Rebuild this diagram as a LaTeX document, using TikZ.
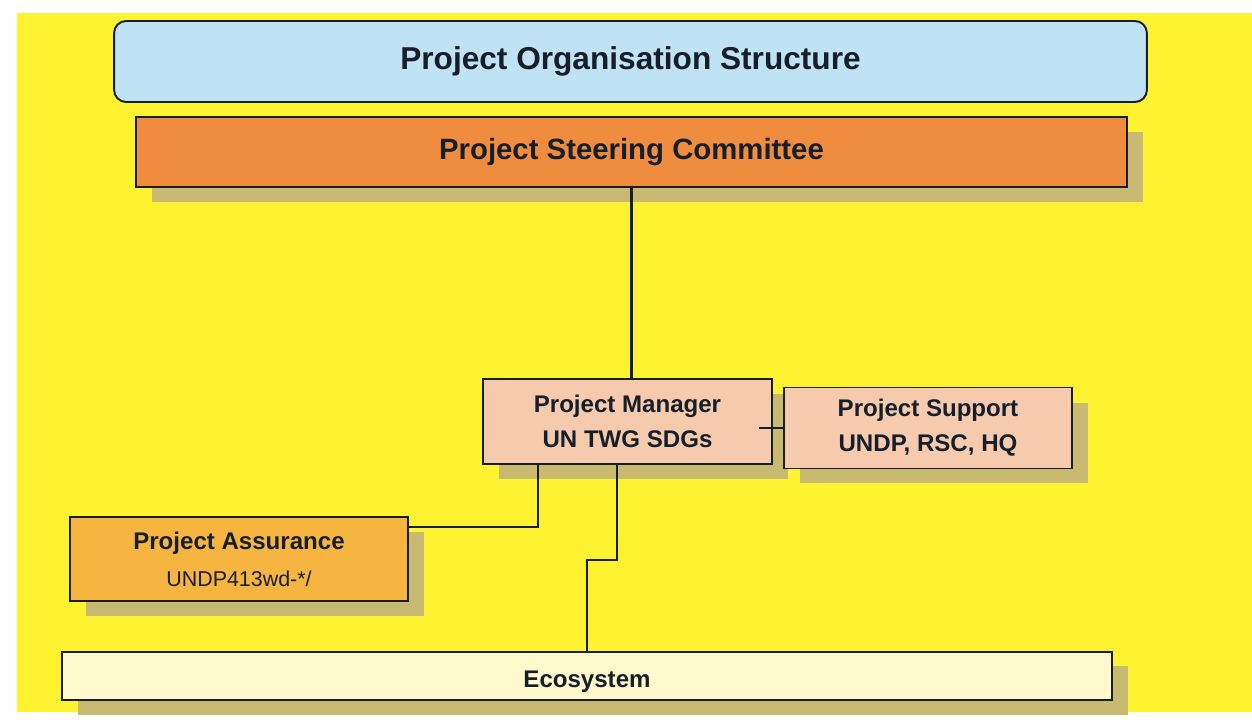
\documentclass[tikz,border=0pt]{standalone}
\usepackage{fontspec}
\setmainfont{Liberation Sans}
\usetikzlibrary{shadows}
\tikzset{>=latex}
\definecolor{bgyellow}{RGB}{255,242,48}
\definecolor{titleblue}{RGB}{192,226,245}
\definecolor{steerorange}{RGB}{240,140,62}
\definecolor{mgrpink}{RGB}{246,202,172}
\definecolor{assureorange}{RGB}{246,180,64}
\definecolor{ecocream}{RGB}{255,250,206}
\definecolor{boxshadow}{RGB}{200,186,112}
\definecolor{inkdark}{RGB}{22,30,42}
\tikzstyle{orgbox}=[rectangle,draw=inkdark,line width=1.1pt,text=inkdark,align=center,inner sep=0pt,general shadow={fill=boxshadow,shadow xshift=0.32cm,shadow yshift=-0.3cm}]
\tikzstyle{titlebox}=[rectangle,draw=inkdark,line width=1.1pt,fill=titleblue,text=inkdark,rounded corners=0.24cm,minimum width=20.66cm,minimum height=1.62cm]
\tikzstyle{link}=[draw=inkdark,line width=1.2pt]

\begin{document}
\begin{tikzpicture}[x=0.02cm,y=-0.02cm]
	\def \bodysize {\fontsize{13.7}{20}\selectfont};
	
	\useasboundingbox (0,0) rectangle (1252,720);
	\fill[bgyellow] (17,13) rectangle (1252,712);
	
	\node[titlebox,font=\fontsize{18}{22}\selectfont\bfseries] (title) at (630.5,61.5) {Project Organisation Structure};
	
	\node[orgbox,fill=steerorange,minimum width=19.82cm,minimum height=1.4cm,font=\fontsize{16.7}{20}\selectfont\bfseries] (steer) at (631.5,152) {Project Steering Committee};
	
	\node[orgbox,fill=mgrpink,minimum width=5.78cm,minimum height=1.7cm,font=\bodysize\bfseries] (manager) at (627.5,421.5) {Project Manager\\UN TWG SDGs};
	\node[orgbox,fill=mgrpink,minimum width=5.76cm,minimum height=1.62cm,font=\bodysize\bfseries] (support) at (928,428) {Project Support\\UNDP, RSC, HQ};
	
	\node[orgbox,fill=assureorange,minimum width=6.76cm,minimum height=1.68cm,font=\bodysize] (assurance) at (239,559) {\textbf{Project Assurance}\\[1pt]{\fontsize{12.2}{15}\selectfont UNDP413wd-*/}};
	
	\node[orgbox,fill=ecocream,minimum width=21cm,minimum height=0.96cm,text height=0.5cm,text depth=0.035cm,font=\bodysize\bfseries,general shadow={fill=boxshadow,shadow xshift=0.32cm,shadow yshift=-0.28cm}] (eco) at (587,676) {Ecosystem};
	
	\draw[link] (steer.south) -- (steer.south |- manager.north);
	\draw[link] (support.west) -- ++(-24,0);
	\draw[link] ([xshift=-1.79cm]manager.south) |- ([yshift=-0.22cm]assurance.north east);
	\draw[link] ([xshift=-0.21cm]manager.south) -- ++(0,95) -| (eco.north);
\end{tikzpicture}
\end{document}
